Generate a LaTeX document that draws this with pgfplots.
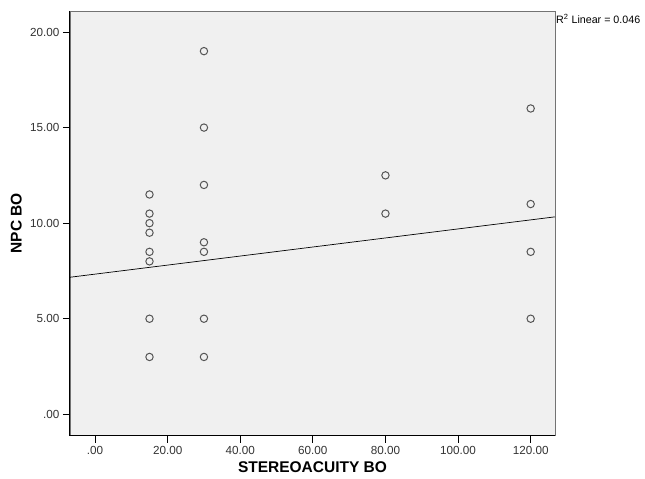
\documentclass[border=0pt]{standalone}
\usepackage{pgfplots}
\pgfplotsset{compat=1.18}
\usepackage{fontspec}
\setmainfont{Liberation Sans}
\definecolor{bgc}{HTML}{F0F0F0}
\definecolor{mk}{HTML}{555555}
\begin{document}
\begin{tikzpicture}
\path[use as bounding box] (0,0) rectangle (645pt,479pt);
\begin{axis}[
    at={(70pt,43.3pt)}, anchor=south west,
    scale only axis,
    width=485pt, height=424.7pt,
    xmin=-6.9, xmax=126.7,
    ymin=-1.12, ymax=21.1,
    axis background/.style={fill=bgc},
    axis line style={draw=black!55, line width=0.9pt},
    xtick={0,20,40,60,80,100,120},
    xticklabels={.00,20.00,40.00,60.00,80.00,100.00,120.00},
    ytick={0,5,10,15,20},
    yticklabels={.00,5.00,10.00,15.00,20.00},
    xtick pos=left, ytick pos=left,
    tick align=outside,
    major tick length=7pt,
    tick style={black, line width=0.8pt},
    tick label style={font=\fontsize{11.7}{13}\selectfont, text=black!80},
    xlabel={\textbf{STEREOACUITY BO}},
    ylabel={\textbf{NPC BO}},
    label style={font=\fontsize{15.5}{17}\selectfont},
    xlabel style={at={(axis description cs:0.5,-0.074)}, anchor=center},
    ylabel style={at={(axis description cs:-0.111,0.5)}, anchor=center},
    clip=false,
]
\addplot[only marks, mark=o, mark size=3.7pt, mark options={draw=mk, line width=1pt}] coordinates {
    (15,11.5) (15,10.5) (15,10) (15,9.5) (15,8.5) (15,8) (15,5) (15,3)
    (30,19) (30,15) (30,12) (30,9) (30,8.5) (30,5) (30,3)
    (80,12.5) (80,10.5)
    (120,16) (120,11) (120,8.5) (120,5)
};
\addplot[black, line width=0.7pt] coordinates {(-6.9,7.17) (126.7,10.33)};
\draw[black, line width=1pt] (rel axis cs:0,1) -- (rel axis cs:0,0) -- (rel axis cs:1,0);
\node[anchor=west, font=\fontsize{10.7}{12}\selectfont, inner sep=0pt] at (rel axis cs:1,1) [yshift=-8pt, xshift=1pt] {R\textsuperscript{2} Linear = 0.046};
\end{axis}
\end{tikzpicture}
\end{document}
